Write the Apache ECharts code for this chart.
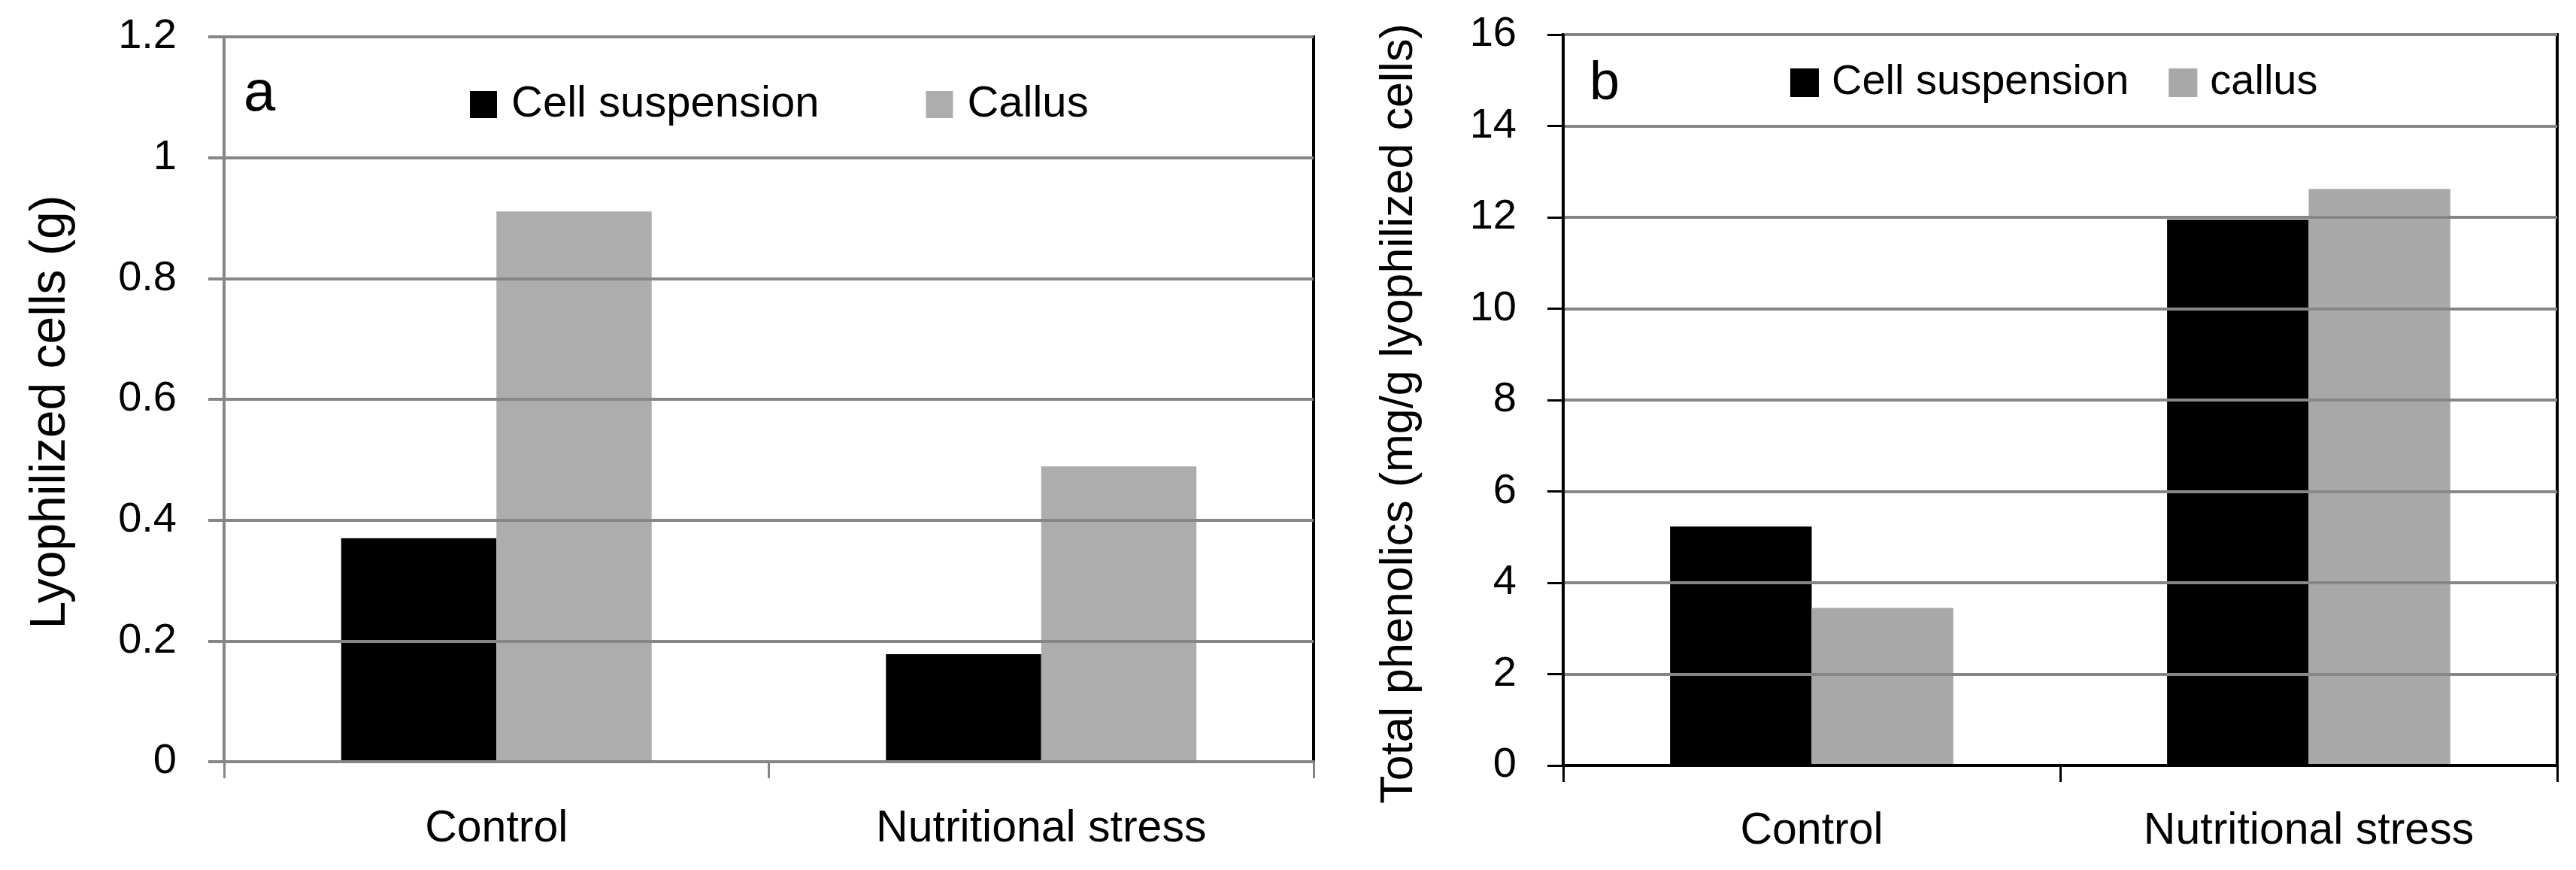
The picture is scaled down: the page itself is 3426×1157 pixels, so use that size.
<!DOCTYPE html>
<html>
<head>
<meta charset="utf-8">
<title>Lyophilized cells and total phenolics</title>
<script src="https://cdn.jsdelivr.net/npm/echarts@6.0.0/dist/echarts.min.js"></script>
<style>
  html, body { margin: 0; padding: 0; background: #fff; }
  #chart { width: 3426px; height: 1157px; }
</style>
</head>
<body>
<div id="chart"></div>
<script>
// data
var categories = ['Control', 'Nutritional stress'];
var biomassCellSusp = [0.37, 0.178];   // panel a, g
var biomassCallus = [0.911, 0.489];
var phenolCellSusp = [5.23, 11.95];    // panel b, mg/g
var phenolCallus = [3.45, 12.62];
var biomassAxis = { min: 0, max: 1.2, interval: 0.2 };
var phenolAxis = { min: 0, max: 16, interval: 2 };

var FONT = '"Liberation Sans", Arial, sans-serif';
var GRID_GRAY = '#868686';

var chart = echarts.init(document.getElementById('chart'));

option = {
    animation: false,
    backgroundColor: '#fff',
    textStyle: { fontFamily: FONT, color: '#000' },
    grid: [
        { left: 298, top: 49, width: 1449, height: 964, show: true, z: 3,
          borderColor: '#000', borderWidth: 4, backgroundColor: 'transparent' },
        { left: 2079, top: 46, width: 1322, height: 972, show: true, z: 3,
          borderColor: '#000', borderWidth: 4, backgroundColor: 'transparent' }
    ],
    legend: [
        {
            left: 620, top: 105, icon: 'rect', itemWidth: 36, itemHeight: 36, itemGap: 142,
            textStyle: { fontFamily: FONT, fontSize: 58, color: '#000', padding: [0, 0, 0, 14] },
            data: ['Cell suspension', 'Callus']
        },
        {
            left: 2376, top: 77, icon: 'rect', itemWidth: 38, itemHeight: 38, itemGap: 53,
            textStyle: { fontFamily: FONT, fontSize: 56, color: '#000', padding: [0, 0, 0, 12] },
            data: ['Cell suspension', 'callus']
        }
    ],
    xAxis: [
        {
            gridIndex: 0, type: 'category', data: categories, z: 4,
            axisLine: { lineStyle: { color: GRID_GRAY, width: 4 } },
            axisTick: { show: true, length: 22, lineStyle: { color: GRID_GRAY, width: 3 } },
            axisLabel: { fontFamily: FONT, fontSize: 59, color: '#000', margin: 60 }
        },
        {
            gridIndex: 1, type: 'category', data: categories, z: 4,
            axisLine: { lineStyle: { color: '#000', width: 4 } },
            axisTick: { show: true, length: 22, lineStyle: { color: '#000', width: 3 } },
            axisLabel: { fontFamily: FONT, fontSize: 59, color: '#000', margin: 58 }
        }
    ],
    yAxis: [
        {
            gridIndex: 0, type: 'value', z: 4,
            min: biomassAxis.min, max: biomassAxis.max, interval: biomassAxis.interval,
            name: 'Lyophilized cells (g)', nameLocation: 'middle', nameGap: 197,
            nameTextStyle: { fontFamily: FONT, fontSize: 66, color: '#000', padding: [0, 34, 0, 0] },
            axisLine: { show: true, lineStyle: { color: GRID_GRAY, width: 4 } },
            axisTick: { show: true, length: 21, lineStyle: { color: GRID_GRAY, width: 4 } },
            axisLabel: { fontFamily: FONT, fontSize: 56, color: '#000', margin: 63 },
            splitLine: { lineStyle: { color: GRID_GRAY, width: 4 } }
        },
        {
            gridIndex: 1, type: 'value', z: 4,
            min: phenolAxis.min, max: phenolAxis.max, interval: phenolAxis.interval,
            name: 'Total phenolics (mg/g lyophilized cells)', nameLocation: 'middle', nameGap: 187,
            nameTextStyle: { fontFamily: FONT, fontSize: 61, color: '#000', padding: [0, 36, 0, 0] },
            axisLine: { show: true, lineStyle: { color: '#000', width: 3 } },
            axisTick: { show: true, length: 21, lineStyle: { color: '#000', width: 3 } },
            axisLabel: { fontFamily: FONT, fontSize: 56, color: '#000', margin: 62 },
            splitLine: { lineStyle: { color: GRID_GRAY, width: 4 } }
        }
    ],
    series: [
        {
            name: 'Cell suspension', type: 'bar', xAxisIndex: 0, yAxisIndex: 0,
            barGap: 0, barCategoryGap: '43%',
            itemStyle: { color: '#000' },
            data: biomassCellSusp
        },
        {
            name: 'Callus', type: 'bar', xAxisIndex: 0, yAxisIndex: 0,
            barGap: 0, barCategoryGap: '43%',
            itemStyle: { color: '#adadad' },
            data: biomassCallus
        },
        {
            name: 'Cell suspension', type: 'bar', xAxisIndex: 1, yAxisIndex: 1,
            barGap: 0, barCategoryGap: '43%',
            itemStyle: { color: '#000' },
            data: phenolCellSusp
        },
        {
            name: 'callus', type: 'bar', xAxisIndex: 1, yAxisIndex: 1,
            barGap: 0, barCategoryGap: '43%',
            itemStyle: { color: '#a8a8a8' },
            data: phenolCallus
        }
    ],
    graphic: [
        { type: 'text', left: 324, top: 88, z: 10,
          style: { text: 'a', font: '76px ' + FONT, fill: '#000' } },
        { type: 'text', left: 2114, top: 76, z: 10,
          style: { text: 'b', font: '72px ' + FONT, fill: '#000' } }
    ]
};

chart.setOption(option);
</script>
</body>
</html>
